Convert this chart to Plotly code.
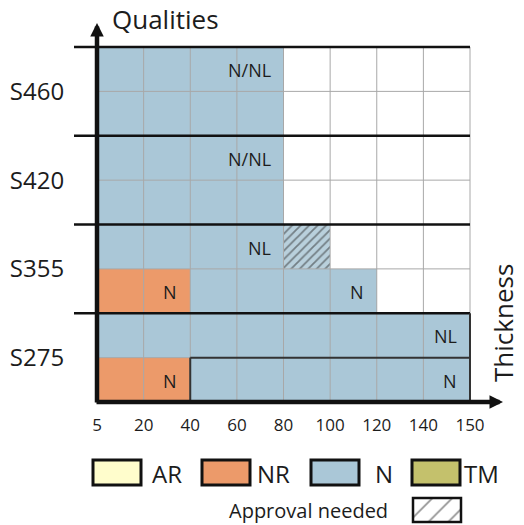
import plotly.graph_objects as go
import numpy as np

# ---------------- data ----------------
thickness_ticks = ["5", "20", "40", "60", "80", "100", "120", "140", "150"]
qualities = ["S275", "S355", "S420", "S460"]

# delivery condition of each cell, bottom sub-row first, 8 thickness bands
s275_low = ["NR", "NR", "N", "N", "N", "N", "N", "N"]
s275_up = ["N", "N", "N", "N", "N", "N", "N", "N"]
s355_low = ["NR", "NR", "N", "N", "N", "N", "", ""]
s355_up = ["N", "N", "N", "N", "", "", "", ""]
s420_low = ["N", "N", "N", "N", "", "", "", ""]
s420_up = ["N", "N", "N", "N", "", "", "", ""]
s460_low = ["N", "N", "N", "N", "", "", "", ""]
s460_up = ["N", "N", "N", "N", "", "", "", ""]
rows = [s275_low, s275_up, s355_low, s355_up, s420_low, s420_up, s460_low, s460_up]

# cells where approval is needed (sub-row, band)
approval_row = [3]
approval_col = [4]

# in-cell labels
label_text = ["N", "N", "NL", "N", "N", "NL", "N/NL", "N/NL"]
label_row = [0, 0, 1, 2, 2, 3, 5, 7]
label_col = [1, 7, 7, 1, 5, 3, 3, 3]

legend_labels = ["AR", "NR", "N", "TM"]

# ---------------- styles / layout ----------------
FONT = "Open Sans"
TXT = "#1c1c1c"
cat_codes = {"": 0, "AR": 1, "NR": 2, "N": 3, "TM": 4}
cat_colors = {"": "#ffffff", "AR": "#fffdcc", "NR": "#ec9a6a", "N": "#aac7d7", "TM": "#c4c16c"}
GRID = "#a8a8a8"

OFF = 0                      # page body margin (removed by post_script)
WIN_W, WIN_H = 524, 525
W, H = WIN_W - OFF, WIN_H - OFF
X0PX, X8PX = 97, 470         # window pixel of x=0 and x=8
Y0PX, Y8PX = 402, 47         # window pixel of y=0 and y=8
sx = (X8PX - X0PX) / 8.0
sy = (Y0PX - Y8PX) / 8.0


def dx(px):   # window px -> data x
    return (px - X0PX) / sx


def dy(py):   # window px -> data y
    return (Y0PX - py) / sy


def px_(px):  # window px -> paper x
    return (px - OFF) / W


def py_(py):  # window px -> paper y
    return 1 - (py - OFF) / H


xr = [dx(OFF), dx(WIN_W)]
yr = [dy(WIN_H), dy(OFF)]

ncol = len(thickness_ticks) - 1
nrow = len(rows)

z = np.array([[cat_codes[c] for c in r] for r in rows])
codes = sorted(cat_codes.items(), key=lambda kv: kv[1])
n = len(codes)
cscale = []
for name, k in codes:
    cscale.append([k / n, cat_colors[name]])
    cscale.append([(k + 1) / n, cat_colors[name]])

fig = go.Figure()
fig.add_trace(go.Heatmap(
    z=z, x=np.arange(ncol) + 0.5, y=np.arange(nrow) + 0.5,
    zmin=-0.5, zmax=n - 0.5, colorscale=cscale, showscale=False, hoverinfo="skip"))

# hatched approval cells
fig.add_trace(go.Bar(
    x=[c + 0.5 for c in approval_col], y=[1] * len(approval_row), base=approval_row,
    width=[1] * len(approval_row),
    marker=dict(color="#b9d0dc", line=dict(width=0),
                pattern=dict(shape="/", fgcolor="#2e2e2e", bgcolor="#b9d0dc", size=6, solidity=0.3)),
    hoverinfo="skip", showlegend=False))

# hatched legend box
hx0, hx1 = dx(413), dx(461)
hy0, hy1 = dy(522), dy(498)
fig.add_trace(go.Bar(
    x=[(hx0 + hx1) / 2], y=[hy1 - hy0], base=[hy0], width=[hx1 - hx0],
    marker=dict(color="#ffffff", line=dict(width=0),
                pattern=dict(shape="/", fgcolor="#222222", bgcolor="#ffffff", size=14, solidity=0.12)),
    hoverinfo="skip", showlegend=False))

shapes = []
# grey grid
for i in range(ncol + 1):
    shapes.append(dict(type="line", xref="x", yref="y", x0=i, x1=i, y0=0, y1=nrow,
                       line=dict(color=GRID, width=1), layer="above"))
for j in range(nrow + 1):
    shapes.append(dict(type="line", xref="x", yref="y", x0=0, x1=ncol, y0=j, y1=j,
                       line=dict(color=GRID, width=1), layer="above"))
# quality separators
for q in range(1, len(qualities) + 1):
    shapes.append(dict(type="line", xref="x", yref="y", x0=dx(74), x1=ncol, y0=2 * q, y1=2 * q,
                       line=dict(color="#111111", width=2.5), layer="above"))
# outline of the S275 region
first_n = s275_low.index("N")
for (a, b, c, d) in [(first_n, ncol, 1, 1), (first_n, first_n, 0, 1), (ncol, ncol, 0, 2)]:
    shapes.append(dict(type="line", xref="x", yref="y", x0=a, x1=b, y0=c, y1=d,
                       line=dict(color="#333333", width=2), layer="above"))

# legend boxes
leg_box_px = [93, 202, 311, 412]
leg_txt_px = [150, 255, 373, 462]
for i, lab in enumerate(legend_labels):
    shapes.append(dict(type="rect", xref="paper", yref="paper",
                       x0=px_(leg_box_px[i]), x1=px_(leg_box_px[i] + 48),
                       y0=py_(485), y1=py_(460),
                       fillcolor=cat_colors[lab], line=dict(color="#111111", width=3)))
# border of hatched legend box
shapes.append(dict(type="rect", xref="x", yref="y", x0=hx0, x1=hx1, y0=hy0, y1=hy1,
                   line=dict(color="#111111", width=2.5), layer="above"))
fig.update_layout(shapes=shapes)

ann = []
for t, r, c in zip(label_text, label_row, label_col):
    ann.append(dict(x=c + 1, y=r + 0.5, xref="x", yref="y", text=t, showarrow=False,
                    xanchor="right", yanchor="middle", xshift=-11, yshift=-1,
                    font=dict(family=FONT, size=18, color=TXT)))
for i, lab in enumerate(legend_labels):
    ann.append(dict(x=px_(leg_txt_px[i]), y=py_(473), xref="paper", yref="paper", text=lab,
                    showarrow=False, xanchor="left", yanchor="middle",
                    font=dict(family=FONT, size=24, color=TXT)))
ann.append(dict(x=px_(227), y=py_(510), xref="paper", yref="paper", text="Approval needed",
                showarrow=False, xanchor="left", yanchor="middle",
                font=dict(family=FONT, size=20, color=TXT)))
ann.append(dict(x=dx(110), y=dy(19), xref="x", yref="y", text="Qualities",
                showarrow=False, xanchor="left", yanchor="middle",
                font=dict(family=FONT, size=26, color=TXT)))
ann.append(dict(x=dx(503), y=dy(323), xref="x", yref="y", text="Thickness",
                showarrow=False, textangle=-90, xanchor="center", yanchor="middle",
                font=dict(family=FONT, size=26, color=TXT)))
# axis arrows
ann.append(dict(x=0, y=dy(23), ax=0, ay=dy(404), xref="x", yref="y", axref="x", ayref="y",
                text="", showarrow=True, arrowhead=2, arrowsize=0.6, arrowwidth=4.5,
                arrowcolor="#111111", standoff=0, startstandoff=0))
ann.append(dict(x=dx(503), y=0, ax=dx(95), ay=0, xref="x", yref="y", axref="x", ayref="y",
                text="", showarrow=True, arrowhead=2, arrowsize=0.6, arrowwidth=4.5,
                arrowcolor="#111111", standoff=0, startstandoff=0))

fig.update_layout(
    annotations=ann,
    width=W, height=H, margin=dict(l=0, r=0, t=0, b=0),
    paper_bgcolor="white", plot_bgcolor="white",
    showlegend=False, barmode="overlay", bargap=0,
    xaxis=dict(range=xr, anchor="free", position=py_(Y0PX),
               tickmode="array", tickvals=list(range(ncol + 1)), ticktext=thickness_ticks,
               showgrid=False, zeroline=False, showline=False,
               ticks="outside", ticklen=8, tickcolor="rgba(0,0,0,0)",
               tickfont=dict(family=FONT, size=17, color=TXT), fixedrange=True),
    yaxis=dict(range=yr, anchor="free", position=px_(X0PX),
               tickmode="array", tickvals=[2 * q + 1 for q in range(len(qualities))], ticktext=qualities,
               showgrid=False, zeroline=False, showline=False,
               ticks="outside", ticklen=28, tickcolor="rgba(0,0,0,0)",
               tickfont=dict(family=FONT, size=24, color=TXT), fixedrange=True),
)

fig.write_html("out.html", config={"displayModeBar": False},
               post_script="document.body.style.margin='0';document.body.style.overflow='hidden';")
